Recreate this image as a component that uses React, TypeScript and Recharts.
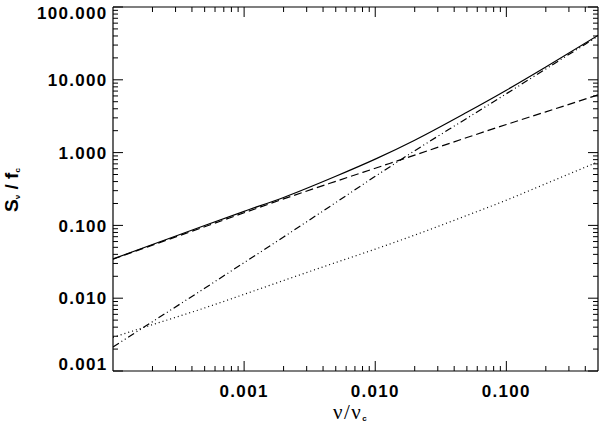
import { LineChart, Line, XAxis, YAxis, ReferenceLine } from 'recharts';

// frequency nu/nu_c sampled along the curves
const nuRatio = [0.0001, 0.0002, 0.0005, 0.001, 0.002, 0.005, 0.01, 0.02, 0.05, 0.1, 0.2, 0.5];
// total (solid)
const totalFlux = [0.0346, 0.0546, 0.0997, 0.156, 0.242, 0.473, 0.813, 1.48, 3.58, 7.2, 15.0, 40.8];
// dashed component
const dashedFlux = [0.0344, 0.0536, 0.0959, 0.149, 0.231, 0.403, 0.61, 0.923, 1.61, 2.43, 3.63, 6.2];
// dotted component
const dottedFlux = [0.0029, 0.00433, 0.00735, 0.0113, 0.0175, 0.0309, 0.0472, 0.0736, 0.137, 0.222, 0.374, 0.746];
// dash-dot-dot component
const dashDotFlux = [0.00214, 0.00476, 0.0137, 0.0308, 0.0693, 0.206, 0.472, 1.06, 2.96, 6.44, 14.1, 39.7];

const xMajorTicks = [0.001, 0.01, 0.1];
const xMajorLabels = ['0.001', '0.010', '0.100'];
const xMinorTicks = [
  0.0002, 0.0003, 0.0004, 0.0005, 0.0006, 0.0007, 0.0008, 0.0009,
  0.002, 0.003, 0.004, 0.005, 0.006, 0.007, 0.008, 0.009,
  0.02, 0.03, 0.04, 0.05, 0.06, 0.07, 0.08, 0.09,
  0.2, 0.3, 0.4,
];
const yMajorTicks = [0.001, 0.01, 0.1, 1, 10, 100];
const yMajorLabels = ['0.001', '0.010', '0.100', '1.000', '10.000', '100.000'];
const yMinorTicks = [
  0.002, 0.003, 0.004, 0.005, 0.006, 0.007, 0.008, 0.009,
  0.02, 0.03, 0.04, 0.05, 0.06, 0.07, 0.08, 0.09,
  0.2, 0.3, 0.4, 0.5, 0.6, 0.7, 0.8, 0.9,
  2, 3, 4, 5, 6, 7, 8, 9,
  20, 30, 40, 50, 60, 70, 80, 90,
];

const data = nuRatio.map((x, i) => ({
  x,
  total: totalFlux[i],
  dashed: dashedFlux[i],
  dotted: dottedFlux[i],
  dashDot: dashDotFlux[i],
}));

const W = 600;
const H = 423;
const LEFT = 113;
const TOP = 7;
const RIGHT = 2;
const BOTTOM = 52;
const PLOT_W = W - LEFT - RIGHT;
const PLOT_H = H - TOP - BOTTOM;
const MAJOR = 10;
const MINOR = 5;

const labelFont = {
  fontFamily: '"Liberation Sans", Arial, sans-serif',
  fontWeight: 700,
  fontSize: 17,
  letterSpacing: 1.3,
};

const findLabel = (v: number, ticks: number[], labels: string[]) => {
  const i = ticks.findIndex(t => Math.abs(Math.log10(t) - Math.log10(v)) < 1e-6);
  return i >= 0 ? labels[i] : null;
};

const XTick = (props: any) => {
  const { x, y, payload } = props;
  const label = findLabel(payload.value, xMajorTicks, xMajorLabels);
  const len = label ? MAJOR : MINOR;
  return (
    <g>
      <line x1={x} y1={y} x2={x} y2={y - len} stroke="#000" strokeWidth={1} />
      <line x1={x} y1={y - PLOT_H} x2={x} y2={y - PLOT_H + len} stroke="#000" strokeWidth={1} />
      {label && (
        <text x={x} y={y + 25.6} textAnchor="middle" fill="#000" style={labelFont}>
          {label}
        </text>
      )}
    </g>
  );
};

const YTick = (props: any) => {
  const { x, y, payload } = props;
  const label = findLabel(payload.value, yMajorTicks, yMajorLabels);
  const len = label ? MAJOR : MINOR;
  let shift = 0;
  if (payload.value >= 100) shift = 6;
  if (payload.value <= 0.001) shift = -7;
  return (
    <g>
      <line x1={x} y1={y} x2={x + len} y2={y} stroke="#000" strokeWidth={1} />
      <line x1={x + PLOT_W} y1={y} x2={x + PLOT_W - len} y2={y} stroke="#000" strokeWidth={1} />
      {label && (
        <text x={x - 5.5} y={y + 6.1 + shift} textAnchor="end" fill="#000" style={labelFont}>
          {label}
        </text>
      )}
    </g>
  );
};

const XTitle = () => (
  <text
    x={333}
    y={418.5}
    fill="#000"
    style={{ fontFamily: '"Liberation Serif", "Times New Roman", serif', fontSize: 21, letterSpacing: 1.5 }}
  >
    ν/ν
    <tspan
      dx={0}
      dy={2.5}
      style={{ fontFamily: '"Liberation Sans", Arial, sans-serif', fontSize: 8, fontWeight: 700, letterSpacing: 0 }}
    >
      c
    </tspan>
  </text>
);

const YTitle = () => (
  <text
    x={18}
    y={190}
    transform="rotate(-90 18 190)"
    textAnchor="middle"
    fill="#000"
    style={{ fontFamily: '"Liberation Sans", Arial, sans-serif', fontSize: 19, fontWeight: 700 }}
  >
    S
    <tspan fontSize={8} dy={2}>ν</tspan>
    <tspan dy={-2}>{'  / f'}</tspan>
    <tspan fontSize={8} dy={2}>c</tspan>
  </text>
);

export default function App() {
  return (
    <div style={{ position: 'absolute', left: 0, top: 0, width: W, height: H, background: '#fff' }}>
      <LineChart width={W} height={H} data={data} margin={{ top: TOP, right: RIGHT, bottom: 0, left: 0 }}>
        <XAxis
          dataKey="x"
          type="number"
          scale="log"
          domain={[0.0001, 0.5]}
          allowDataOverflow
          ticks={[...xMinorTicks, ...xMajorTicks].sort((a, b) => a - b)}
          interval={0}
          height={BOTTOM}
          tickSize={0}
          tickMargin={0}
          tickLine={false}
          tick={<XTick />}
          axisLine={{ stroke: '#000', strokeWidth: 1.2 }}
          label={{ content: () => <XTitle /> }}
        />
        <YAxis
          type="number"
          scale="log"
          domain={[0.001, 100]}
          allowDataOverflow
          ticks={[...yMinorTicks, ...yMajorTicks].sort((a, b) => a - b)}
          interval={0}
          width={LEFT}
          tickSize={0}
          tickMargin={0}
          tickLine={false}
          tick={<YTick />}
          axisLine={{ stroke: '#000', strokeWidth: 1.2 }}
          label={{ content: () => <YTitle /> }}
        />
        <ReferenceLine y={100} stroke="#000" strokeWidth={1.2} />
        <ReferenceLine x={0.5} stroke="#000" strokeWidth={1.2} />
        <Line dataKey="dotted" type="monotone" stroke="#000" strokeWidth={1.2} strokeDasharray="1 3" dot={false} isAnimationActive={false} />
        <Line dataKey="dashDot" type="monotone" stroke="#000" strokeWidth={1.2} strokeDasharray="7 3 1 3 1 3" dot={false} isAnimationActive={false} />
        <Line dataKey="dashed" type="monotone" stroke="#000" strokeWidth={1.2} strokeDasharray="8 4" dot={false} isAnimationActive={false} />
        <Line dataKey="total" type="monotone" stroke="#000" strokeWidth={1.2} dot={false} isAnimationActive={false} />
      </LineChart>
    </div>
  );
}
